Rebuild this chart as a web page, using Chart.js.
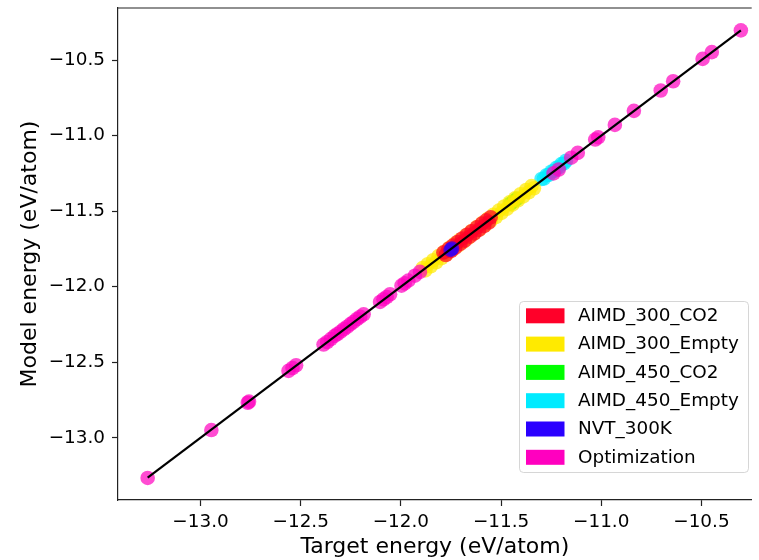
<!DOCTYPE html>
<html>
<head>
<meta charset="utf-8">
<script src="https://cdn.jsdelivr.net/npm/chart.js@4/dist/chart.umd.min.js"></script>
<style>
  html, body { margin: 0; padding: 0; background: #fff; overflow: hidden; }
  #wrap { width: 759px; height: 560px; position: relative; }
</style>
</head>
<body>
<div id="wrap"><canvas id="c" width="759" height="560"></canvas></div>
<script>
// ---------- data ----------
const seriesNames = ["AIMD_300_CO2", "AIMD_300_Empty", "AIMD_450_CO2", "AIMD_450_Empty", "NVT_300K", "Optimization"];
const seriesColors = ["#ff0029", "#ffea00", "#00ff00", "#00ebff", "#2a00ff", "#ff00bf"];

const aimd300co2X = [-11.788, -11.776, -11.763, -11.750, -11.741, -11.729, -11.718, -11.703, -11.694, -11.681, -11.670, -11.655, -11.647, -11.633, -11.621, -11.610, -11.596, -11.585, -11.574, -11.561, -11.552];
const aimd300co2Y = [-11.774, -11.790, -11.749, -11.765, -11.728, -11.743, -11.704, -11.717, -11.681, -11.695, -11.656, -11.669, -11.633, -11.647, -11.607, -11.624, -11.582, -11.599, -11.561, -11.575, -11.540];

const aimd300emptyX = [-11.892, -11.878, -11.866, -11.851, -11.839, -11.824, -11.812, -11.797, -11.786, -11.771, -11.757, -11.744, -11.730, -11.716, -11.704, -11.689, -11.675, -11.662, -11.648, -11.635, -11.620, -11.607, -11.594, -11.580, -11.566, -11.553, -11.539, -11.526, -11.511, -11.498, -11.484, -11.471, -11.457, -11.444, -11.430, -11.416, -11.403, -11.389, -11.375, -11.362, -11.348, -11.336];
const aimd300emptyY = [-11.877, -11.892, -11.851, -11.865, -11.825, -11.838, -11.797, -11.811, -11.771, -11.785, -11.742, -11.757, -11.715, -11.729, -11.689, -11.703, -11.660, -11.675, -11.633, -11.648, -11.605, -11.620, -11.579, -11.593, -11.551, -11.566, -11.524, -11.539, -11.496, -11.511, -11.469, -11.484, -11.442, -11.457, -11.415, -11.429, -11.388, -11.402, -11.360, -11.375, -11.334, -11.348];

const aimd450co2X = [-11.452, -11.437, -11.421];
const aimd450co2Y = [-11.449, -11.434, -11.418];

const aimd450emptyX = [-11.298, -11.286, -11.273, -11.261, -11.248, -11.236, -11.224, -11.211, -11.199, -11.186, -11.176];
const aimd450emptyY = [-11.287, -11.284, -11.262, -11.259, -11.237, -11.234, -11.213, -11.209, -11.188, -11.184, -11.166];

const nvt300X = [-11.752, -11.745];
const nvt300Y = [-11.756, -11.748];

const optX = [-13.264, -12.946, -12.758, -12.764, -12.561, -12.541, -12.523, -12.386, -12.368, -12.350, -12.331, -12.317, -12.300, -12.284, -12.268, -12.252, -12.236, -12.219, -12.203, -12.186, -12.104, -12.087, -12.071, -12.054, -11.997, -11.981, -11.963, -11.930, -11.905, -11.238, -11.212, -11.150, -11.117, -11.030, -11.015, -10.932, -10.837, -10.703, -10.641, -10.494, -10.448, -10.303];
const optY = [-13.266, -12.949, -12.761, -12.768, -12.557, -12.538, -12.520, -12.383, -12.366, -12.347, -12.326, -12.313, -12.297, -12.280, -12.265, -12.248, -12.233, -12.214, -12.199, -12.183, -12.101, -12.083, -12.068, -12.050, -11.993, -11.978, -11.960, -11.927, -11.902, -11.250, -11.224, -11.146, -11.114, -11.026, -11.011, -10.929, -10.836, -10.701, -10.640, -10.492, -10.447, -10.303];

const parityLine = [-13.264, -10.303];

const xTicks = [-13.0, -12.5, -12.0, -11.5, -11.0, -10.5];
const yTicks = [-13.0, -12.5, -12.0, -11.5, -11.0, -10.5];
const xRange = [-13.412, -10.249];
const yRange = [-13.412, -10.155];
const xTitle = "Target energy (eV/atom)";
const yTitle = "Model energy (eV/atom)";

// ---------- build ----------
function pairs(xs, ys) { return xs.map((x, i) => ({ x: x, y: ys[i] })); }
function rgba(hex, a) {
  const n = parseInt(hex.slice(1), 16);
  return `rgba(${(n >> 16) & 255},${(n >> 8) & 255},${n & 255},${a})`;
}
const xs = [aimd300co2X, aimd300emptyX, aimd450co2X, aimd450emptyX, nvt300X, optX];
const ys = [aimd300co2Y, aimd300emptyY, aimd450co2Y, aimd450emptyY, nvt300Y, optY];
// drawing order: lower 'order' value is drawn on top
const drawOrder = [3, 4, 6, 5, 2, 1];
const ALPHA = 0.7;

const datasets = seriesNames.map((name, i) => ({
  label: name,
  data: pairs(xs[i], ys[i]),
  backgroundColor: rgba(seriesColors[i], ALPHA),
  borderWidth: 0,
  pointRadius: 7.3,
  pointHoverRadius: 7.3,
  order: drawOrder[i]
}));
datasets.push({
  type: 'line',
  label: 'parity',
  data: pairs(parityLine, parityLine),
  borderColor: '#000',
  borderWidth: 2.2,
  pointRadius: 0,
  fill: false,
  order: 0
});

const FONT = "'DejaVu Sans', 'Liberation Sans', sans-serif";
const axisColor = '#222';
const TICK_SIZE = 18.4;
const TITLE_SIZE = 22;

const frameAndLegend = {
  id: 'frameAndLegend',
  afterDraw(chart) {
    const ctx = chart.ctx;
    const a = chart.chartArea;
    ctx.save();
    ctx.strokeStyle = axisColor;
    ctx.lineWidth = 1.2;
    ctx.beginPath();
    ctx.moveTo(a.left, a.top);
    ctx.lineTo(a.right, a.top);
    ctx.stroke();
    const bx = 519, by = 301, bw = 229, bh = 171;
    ctx.beginPath();
    ctx.roundRect(bx + 0.5, by + 0.5, bw, bh, 4);
    ctx.fillStyle = 'rgba(255,255,255,0.8)';
    ctx.fill();
    ctx.strokeStyle = 'rgba(204,204,204,0.8)';
    ctx.lineWidth = 1;
    ctx.stroke();
    ctx.font = `${TICK_SIZE}px ${FONT}`;
    ctx.textBaseline = 'middle';
    ctx.textAlign = 'left';
    seriesNames.forEach((name, i) => {
      const cy = 315.8 + i * 28.3;
      ctx.fillStyle = seriesColors[i];
      ctx.fillRect(526, cy - 7.5, 38.5, 15);
      ctx.fillStyle = '#000';
      ctx.fillText(name, 578, cy + 0.5);
    });
    ctx.restore();
  }
};

const tickFmt = v => (Math.round(v * 10) / 10).toFixed(1).replace('-', '\u2212');

new Chart(document.getElementById('c'), {
  type: 'scatter',
  data: { datasets: datasets },
  options: {
    responsive: false,
    animation: false,
    devicePixelRatio: 1,
    layout: { padding: { top: 8, right: 0, left: 0, bottom: 0 } },
    plugins: { legend: { display: false }, tooltip: { enabled: false } },
    scales: {
      x: {
        type: 'linear',
        min: xRange[0], max: xRange[1],
        afterBuildTicks: s => { s.ticks = xTicks.map(v => ({ value: v })); },
        afterFit: s => { s.height = 60; s.paddingLeft = 0; s.paddingRight = 0; },
        ticks: { callback: tickFmt, color: '#000', font: { family: FONT, size: TICK_SIZE }, padding: 5, maxRotation: 0, autoSkip: false },
        grid: { display: true, drawOnChartArea: false, drawTicks: true, tickLength: 6, tickColor: axisColor, tickWidth: 1.2 },
        border: { display: true, color: axisColor, width: 1.2 },
        title: { display: true, text: xTitle, color: '#000', font: { family: FONT, size: TITLE_SIZE, lineHeight: 1.2 }, padding: { top: 0, bottom: 0 } }
      },
      y: {
        type: 'linear',
        min: yRange[0], max: yRange[1],
        afterBuildTicks: s => { s.ticks = yTicks.map(v => ({ value: v })); },
        afterFit: s => { s.width = 118; s.paddingTop = 0; s.paddingBottom = 0; },
        ticks: { callback: tickFmt, color: '#000', font: { family: FONT, size: TICK_SIZE }, padding: 7, autoSkip: false },
        grid: { display: true, drawOnChartArea: false, drawTicks: true, tickLength: 6, tickColor: axisColor, tickWidth: 1.2 },
        border: { display: true, color: axisColor, width: 1.2 },
        title: { display: true, text: yTitle, color: '#000', font: { family: FONT, size: TITLE_SIZE, lineHeight: 1.2 }, padding: { top: 17, bottom: 0 } }
      }
    }
  },
  plugins: [frameAndLegend]
});
</script>
</body>
</html>
